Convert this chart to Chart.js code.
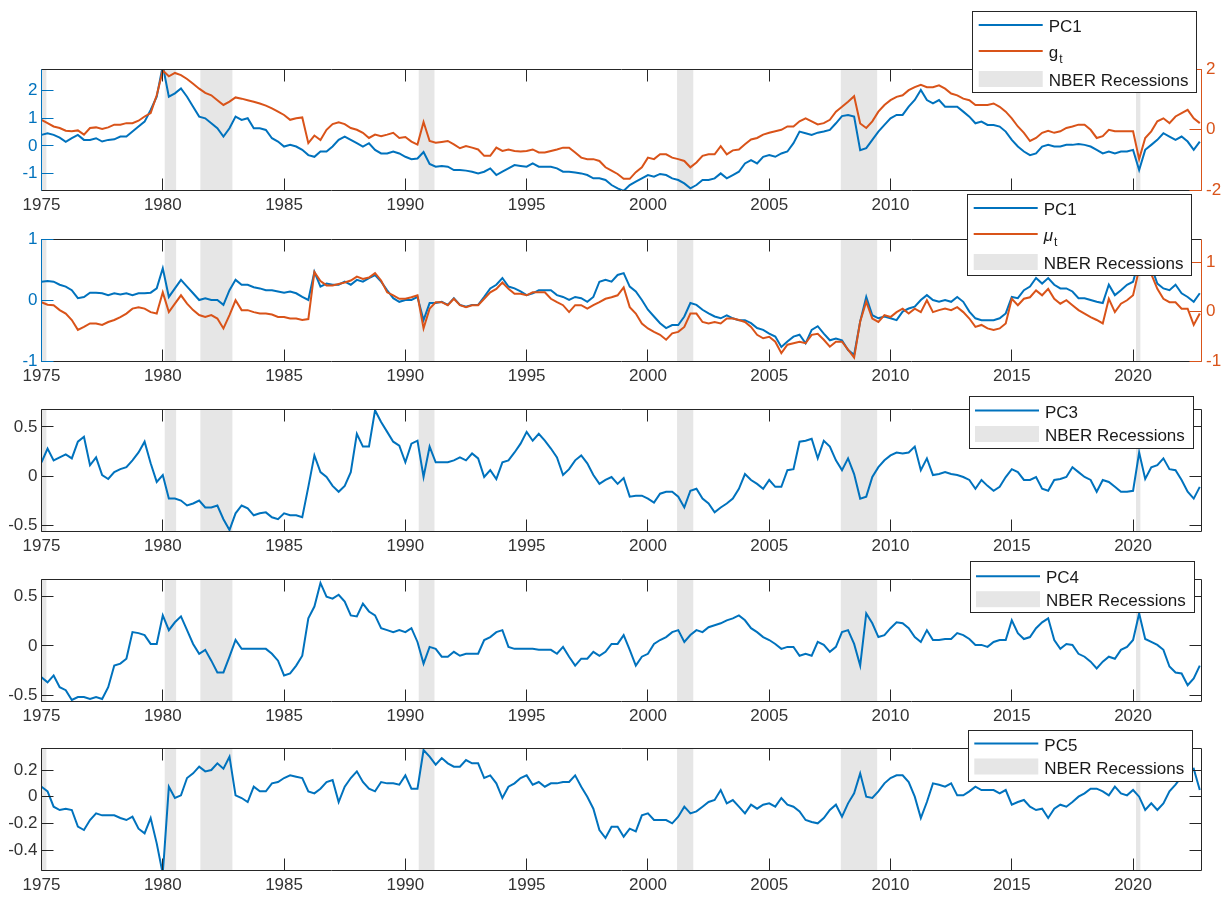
<!DOCTYPE html>
<html>
<head>
<meta charset="utf-8">
<script src="https://cdn.jsdelivr.net/npm/chart.js@4.4.0/dist/chart.umd.min.js"></script>
<style>
  body { margin: 0; background: #fff; }
  #wrap { position: relative; width: 1231px; height: 897px; overflow: hidden; }
  canvas { position: absolute; left: 0; }
</style>
</head>
<body>
<div id="wrap">
  <canvas id="c1"></canvas>
  <canvas id="c2"></canvas>
  <canvas id="c3"></canvas>
  <canvas id="c4"></canvas>
  <canvas id="c5"></canvas>
</div>
<script>
// quarterly observations, 1975Q1 .. 2022Q4
const quarters = [];
for (let i = 0; i < 192; i++) quarters.push(1975 + i / 4);

const xTicks = [1975, 1980, 1985, 1990, 1995, 2000, 2005, 2010, 2015, 2020];

// NBER recession dates (decimal years)
const recStart = [1973.83, 1980.08, 1981.55, 1990.55, 2001.2, 2007.95, 2020.12];
const recEnd   = [1975.2, 1980.55, 1982.87, 1991.2, 2001.87, 2009.45, 2020.3];

// panel 1
const pc1Top = [
  0.40,0.46,0.40,0.30, 0.15,0.28,0.40,0.22, 0.22,0.28,0.16,0.22, 0.24,0.34,0.34,0.52, 0.70,0.88,1.30,1.78,
  2.90,1.78,1.90,2.08, 1.78,1.42,1.06,1.00, 0.82,0.64,0.34,0.64, 1.06,0.94,1.00,0.64, 0.64,0.58,0.28,0.16,
  -0.02,0.04,-0.02,-0.14, -0.33,-0.39,-0.20,-0.20, -0.02,0.22,0.34,0.22, 0.10,-0.02,0.10,-0.14, -0.27,-0.27,-0.20,-0.27,
  -0.39,-0.48,-0.45,-0.22, -0.65,-0.75,-0.72,-0.75, -0.87,-0.87,-0.89,-0.93, -0.99,-0.93,-0.81,-1.05, -0.93,-0.81,-0.69,-0.72,
  -0.75,-0.63,-0.75,-0.75, -0.75,-0.81,-0.93,-0.93, -0.96,-0.99,-1.05,-1.17, -1.17,-1.23,-1.41,-1.53, -1.62,-1.41,-1.29,-1.17,
  -1.05,-1.11,-1.01,-1.05, -1.17,-1.23,-1.35,-1.53, -1.41,-1.23,-1.23,-1.17, -0.99,-1.17,-1.05,-0.93, -0.63,-0.51,-0.63,-0.39,
  -0.33,-0.39,-0.27,-0.20, 0.10,0.52,0.46,0.40, 0.48,0.52,0.58,0.82, 1.08,1.12,1.06,-0.15, -0.08,0.22,0.52,0.76,
  1.00,1.12,1.12,1.42, 1.66,2.02,1.66,1.54, 1.66,1.42,1.42,1.42, 1.24,1.06,0.82,0.88, 0.76,0.76,0.70,0.52,
  0.22,-0.02,-0.20,-0.33, -0.27,-0.02,0.04,-0.02, -0.02,0.04,0.04,0.07, 0.04,-0.02,-0.14,-0.27, -0.20,-0.27,-0.20,-0.20,
  -0.14,-0.87,-0.14,0.04, 0.22,0.46,0.34,0.22, 0.34,0.16,-0.14,0.16
];
const gTop = [
  0.32,0.21,0.10,0.05, -0.04,-0.06,-0.03,-0.17, 0.05,0.07,0.02,0.07, 0.16,0.16,0.21,0.21, 0.29,0.43,0.54,1.13,
  1.95,1.76,1.87,1.80, 1.67,1.51,1.35,1.21, 1.13,0.97,0.81,0.92, 1.06,1.02,0.97,0.92, 0.86,0.79,0.70,0.59,
  0.48,0.32,0.37,0.40, -0.45,-0.20,-0.35,-0.01, 0.18,0.24,0.18,0.05, -0.01,-0.11,-0.28,-0.17, -0.22,-0.17,-0.11,-0.28,
  -0.25,-0.40,-0.50,0.25, -0.38,-0.44,-0.41,-0.38, -0.49,-0.62,-0.55,-0.60, -0.66,-0.87,-0.87,-0.60, -0.71,-0.66,-0.71,-0.73,
  -0.71,-0.66,-0.76,-0.76, -0.71,-0.66,-0.60,-0.60, -0.76,-0.93,-0.98,-0.98, -1.04,-1.25,-1.36,-1.47, -1.63,-1.63,-1.41,-1.25,
  -0.93,-0.98,-0.82,-0.82, -0.93,-0.98,-1.04,-1.25, -1.09,-0.87,-0.82,-0.82, -0.55,-0.82,-0.69,-0.66, -0.49,-0.33,-0.28,-0.17,
  -0.11,-0.06,-0.01,0.10, 0.10,0.27,0.37,0.27, 0.17,0.21,0.32,0.59, 0.75,0.92,1.10,0.20, 0.05,0.27,0.59,0.81,
  0.97,1.08,1.13,1.30, 1.40,1.48,1.40,1.40, 1.46,1.35,1.19,1.13, 1.02,0.97,0.81,0.81, 0.81,0.86,0.75,0.59,
  0.37,0.10,-0.11,-0.38, -0.28,-0.11,-0.04,-0.11, -0.06,0.05,0.10,0.16, 0.16,-0.01,-0.28,-0.22, -0.01,-0.06,-0.06,-0.06,
  -0.06,-0.98,-0.28,-0.06, 0.27,0.37,0.21,0.43, 0.54,0.65,0.37,0.21
];

// panel 2
const pc1Mid = [
  0.30,0.31,0.30,0.25, 0.22,0.16,0.03,0.05, 0.12,0.12,0.11,0.08, 0.11,0.09,0.11,0.08, 0.11,0.11,0.12,0.19,
  0.52,0.05,0.19,0.33, 0.22,0.11,0.00,0.03, 0.00,0.00,-0.08,0.16, 0.33,0.25,0.25,0.21, 0.19,0.16,0.16,0.14,
  0.12,0.14,0.11,0.05, 0.00,0.46,0.22,0.27, 0.25,0.25,0.30,0.25, 0.33,0.30,0.36,0.41, 0.30,0.16,0.03,-0.03,
  0.00,0.00,0.05,-0.33, -0.05,-0.05,-0.03,-0.08, 0.03,-0.08,-0.11,-0.08, -0.08,0.05,0.19,0.25, 0.36,0.22,0.19,0.14,
  0.08,0.11,0.16,0.16, 0.16,0.08,0.05,0.00, 0.05,0.03,-0.03,0.05, 0.30,0.33,0.30,0.41, 0.44,0.22,0.14,0.00,
  -0.16,-0.27,-0.38,-0.46, -0.41,-0.41,-0.27,-0.05, -0.08,-0.16,-0.22,-0.27, -0.30,-0.25,-0.30,-0.33, -0.33,-0.38,-0.46,-0.49,
  -0.55,-0.60,-0.77,-0.68, -0.60,-0.57,-0.71,-0.49, -0.43,-0.55,-0.66,-0.63, -0.66,-0.82,-0.90,-0.35, 0.05,-0.25,-0.30,-0.27,
  -0.30,-0.33,-0.19,-0.14, -0.11,0.00,0.08,0.00, -0.03,0.00,-0.03,0.05, -0.03,-0.19,-0.30,-0.33, -0.33,-0.33,-0.30,-0.22,
  0.05,0.03,0.16,0.22, 0.36,0.27,0.36,0.25, 0.19,0.19,0.14,0.03, 0.03,0.00,-0.03,-0.05, 0.25,0.08,0.16,0.25,
  0.30,0.66,0.71,0.55, 0.27,0.19,0.16,0.25, 0.11,0.05,-0.03,0.11
];
const muMid = [
  0.19,0.14,0.13,0.03, -0.04,-0.17,-0.37,-0.31, -0.24,-0.24,-0.27,-0.21, -0.17,-0.11,-0.04,0.06, 0.09,0.06,-0.01,-0.04,
  0.39,-0.01,0.16,0.33, 0.16,0.03,-0.07,-0.11, -0.07,-0.14,-0.34,-0.07, 0.23,0.03,0.03,-0.01, -0.04,-0.04,-0.06,-0.11,
  -0.11,-0.14,-0.14,-0.17, -0.15,0.80,0.62,0.53, 0.53,0.56,0.59,0.63, 0.71,0.66,0.69,0.78, 0.63,0.39,0.33,0.26,
  0.26,0.29,0.33,-0.34, 0.06,0.19,0.19,0.13, 0.26,0.13,0.09,0.13, 0.13,0.26,0.39,0.46, 0.59,0.46,0.36,0.36,
  0.33,0.39,0.39,0.39, 0.26,0.19,0.13,-0.01, 0.13,0.13,0.06,0.13, 0.19,0.26,0.29,0.33, 0.49,0.09,-0.04,-0.24,
  -0.34,-0.41,-0.47,-0.57, -0.44,-0.41,-0.31,-0.04, -0.04,-0.21,-0.24,-0.21, -0.24,-0.14,-0.14,-0.17, -0.21,-0.31,-0.47,-0.54,
  -0.51,-0.61,-0.84,-0.67, -0.64,-0.61,-0.64,-0.47, -0.45,-0.57,-0.71,-0.61, -0.61,-0.77,-0.93,-0.20, 0.20,-0.14,-0.21,-0.07,
  -0.11,-0.01,0.06,-0.04, 0.06,-0.01,0.23,-0.01, 0.03,0.06,0.03,0.09, -0.01,-0.14,-0.31,-0.27, -0.34,-0.37,-0.34,-0.24,
  0.26,0.13,0.26,0.29, 0.43,0.33,0.46,0.26, 0.16,0.23,0.13,0.03, -0.04,-0.11,-0.17,-0.24, 0.26,-0.01,0.16,0.23,
  0.33,0.86,0.79,0.76, 0.46,0.26,0.19,0.19, 0.06,0.06,-0.27,-0.04
];

// panels 3-5
const pc3 = [
  0.14,0.28,0.16,0.19, 0.22,0.18,0.35,0.40, 0.11,0.19,0.01,-0.03, 0.04,0.07,0.09,0.16, 0.24,0.35,0.13,-0.06,
  0.01,-0.23,-0.23,-0.25, -0.30,-0.28,-0.25,-0.32, -0.32,-0.30,-0.44,-0.55, -0.38,-0.30,-0.33,-0.40, -0.38,-0.37,-0.42,-0.44,
  -0.38,-0.40,-0.40,-0.42, -0.11,0.21,0.04,-0.01, -0.10,-0.16,-0.10,0.04, 0.43,0.30,0.30,0.67, 0.55,0.45,0.35,0.31,
  0.14,0.33,0.36,-0.01, 0.30,0.14,0.14,0.14, 0.16,0.19,0.16,0.23, 0.18,-0.01,0.06,-0.03, 0.14,0.16,0.24,0.33,
  0.45,0.36,0.43,0.36, 0.28,0.19,0.01,0.07, 0.16,0.21,0.13,0.01, -0.08,-0.04,-0.01,-0.08, -0.02,-0.21,-0.20,-0.20,
  -0.23,-0.27,-0.18,-0.16, -0.16,-0.21,-0.32,-0.15, -0.13,-0.23,-0.28,-0.37, -0.32,-0.28,-0.23,-0.13, 0.02,-0.04,-0.08,-0.13,
  -0.04,-0.11,-0.11,0.06, 0.07,0.35,0.36,0.38, 0.18,0.36,0.30,0.16, 0.06,0.18,0.02,-0.23, -0.21,-0.01,0.09,0.16,
  0.21,0.24,0.23,0.24, 0.30,0.06,0.18,0.01, 0.02,0.04,0.02,0.01, -0.01,-0.04,-0.13,-0.04, -0.10,-0.15,-0.11,-0.01,
  0.07,0.04,-0.04,-0.04, -0.01,-0.13,-0.15,-0.04, -0.03,-0.01,0.09,0.04, -0.01,-0.04,-0.16,-0.04, -0.06,-0.11,-0.16,-0.16,
  -0.15,0.24,-0.03,0.09, 0.11,0.18,0.07,0.06, -0.04,-0.16,-0.23,-0.11
];
const pc4 = [
  -0.32,-0.37,-0.30,-0.42, -0.45,-0.55,-0.52,-0.52, -0.54,-0.52,-0.54,-0.42, -0.20,-0.18,-0.13,0.14, 0.13,0.11,0.02,0.02,
  0.31,0.16,0.24,0.30, 0.16,0.02,-0.08,-0.04, -0.15,-0.27,-0.27,-0.11, 0.06,-0.03,-0.03,-0.03, -0.03,-0.03,-0.08,-0.15,
  -0.30,-0.28,-0.20,-0.10, 0.28,0.40,0.64,0.50, 0.48,0.52,0.45,0.31, 0.30,0.43,0.35,0.31, 0.18,0.16,0.14,0.16,
  0.14,0.18,0.04,-0.18, -0.01,-0.03,-0.11,-0.11, -0.06,-0.10,-0.08,-0.08, -0.08,0.06,0.09,0.14, 0.16,-0.01,-0.03,-0.03,
  -0.03,-0.03,-0.04,-0.04, -0.04,-0.08,-0.01,-0.11, -0.20,-0.13,-0.13,-0.06, -0.10,-0.06,0.02,0.02, 0.11,-0.04,-0.20,-0.11,
  -0.08,0.02,0.06,0.09, 0.14,0.16,0.04,0.11, 0.16,0.14,0.19,0.21, 0.23,0.26,0.28,0.31, 0.26,0.18,0.14,0.09,
  0.06,0.02,-0.03,-0.01, -0.01,-0.10,-0.08,-0.10, 0.04,0.01,-0.06,-0.01, 0.14,0.16,0.02,-0.20, 0.33,0.23,0.09,0.11,
  0.18,0.24,0.23,0.18, 0.09,0.04,0.16,0.06, 0.06,0.07,0.07,0.13, 0.11,0.07,0.01,0.01, -0.01,0.04,0.06,0.06,
  0.26,0.13,0.07,0.09, 0.18,0.24,0.28,0.06, -0.03,0.02,0.01,-0.08, -0.11,-0.16,-0.23,-0.16, -0.11,-0.13,-0.04,-0.01,
  0.06,0.33,0.07,0.04, 0.01,-0.04,-0.21,-0.27, -0.28,-0.40,-0.33,-0.20
];
const pc5 = [
  0.075,0.04,-0.075,-0.10, -0.09,-0.10,-0.225,-0.25, -0.175,-0.125,-0.14,-0.14, -0.14,-0.16,-0.175,-0.15, -0.24,-0.275,-0.16,-0.35,
  -0.58,0.075,-0.01,0.01, 0.14,0.175,0.225,0.19, 0.20,0.25,0.21,0.30, 0.01,-0.01,-0.04,0.075, 0.04,0.04,0.10,0.11,
  0.14,0.16,0.15,0.14, 0.04,0.025,0.06,0.11, 0.125,-0.04,0.075,0.14, 0.19,0.11,0.06,0.04, 0.11,0.10,0.10,0.09,
  0.16,0.06,0.06,0.35, 0.30,0.24,0.29,0.25, 0.225,0.225,0.275,0.25, 0.25,0.14,0.16,0.10, -0.01,0.075,0.10,0.14,
  0.16,0.09,0.11,0.075, 0.10,0.10,0.11,0.11, 0.16,0.075,0.0,-0.09, -0.25,-0.31,-0.225,-0.225, -0.30,-0.24,-0.26,-0.14,
  -0.125,-0.175,-0.175,-0.175, -0.20,-0.15,-0.075,-0.125, -0.11,-0.075,-0.04,-0.025, 0.05,-0.05,-0.025,-0.075, -0.125,-0.06,-0.09,-0.06,
  -0.05,-0.075,-0.01,-0.06, -0.075,-0.11,-0.175,-0.19, -0.20,-0.16,-0.10,-0.06, -0.15,-0.05,0.025,0.175, 0.0,-0.01,0.04,0.10,
  0.14,0.16,0.16,0.11, 0.0,-0.16,-0.04,0.10, 0.09,0.075,0.10,0.01, 0.01,0.04,0.075,0.05, 0.05,0.05,0.025,0.05,
  -0.06,-0.04,-0.025,-0.075, -0.10,-0.09,-0.16,-0.09, -0.06,-0.075,-0.04,0.0, 0.025,0.06,0.06,0.04, 0.01,0.075,0.025,0.01,
  0.05,0.0,-0.10,-0.05, -0.10,-0.05,0.04,0.09, 0.15,0.20,0.21,0.05
];

const yTicks1 = [-1, 0, 1, 2];
const yTicks1r = [-2, 0, 2];
const yTicks2 = [-1, 0, 1];
const yTicks2r = [-1, 0, 1];
const yTicksPC = [-0.5, 0, 0.5];
const yTicks5 = [-0.4, -0.2, 0, 0.2];

const BLUE = '#0072BD', ORANGE = '#D95319', DARK = '#262626', GREY = '#E6E6E6', TICKTXT = '#333333';
const FONT = "'Liberation Sans', Arial, Helvetica, sans-serif";
const X_AXIS_H = 28, TL = 12;

Chart.defaults.font.family = FONT;
Chart.defaults.font.size = 17;

const sn = v => Math.floor(v) + 0.5;

function drawLegend(ctx, lg, items, offY) {
  const bx = lg.x, by = lg.y - offY;
  ctx.fillStyle = '#fff';
  ctx.fillRect(bx, by, lg.w, lg.h);
  ctx.lineWidth = 1;
  ctx.strokeStyle = DARK;
  ctx.strokeRect(sn(bx), sn(by), Math.round(lg.w), Math.round(lg.h));
  items.forEach((it, i) => {
    const cy = by + lg.rows[i];
    if (it.patch) {
      ctx.fillStyle = GREY;
      ctx.fillRect(bx + 6, cy - 8, 64, 16);
    } else {
      ctx.strokeStyle = it.color;
      ctx.lineWidth = 2;
      ctx.beginPath();
      ctx.moveTo(bx + 6, cy);
      ctx.lineTo(bx + 70, cy);
      ctx.stroke();
    }
    ctx.fillStyle = '#1a1a1a';
    ctx.textBaseline = 'middle';
    ctx.textAlign = 'left';
    ctx.font = (it.italic ? 'italic ' : '') + '17px ' + FONT;
    ctx.fillText(it.label, bx + 76, cy + 2.5);
    if (it.sub) {
      const w = ctx.measureText(it.label).width;
      ctx.font = '12px ' + FONT;
      ctx.fillText(it.sub, bx + 76 + w + 1, cy + 9);
    }
  });
}

const matlabLook = {
  id: 'matlabLook',
  beforeDatasetsDraw(chart) {
    const { ctx, chartArea: a, scales: { x } } = chart;
    ctx.save();
    ctx.beginPath();
    ctx.rect(a.left, a.top, a.width, a.height);
    ctx.clip();
    ctx.fillStyle = GREY;
    recStart.forEach((s, i) => {
      const x0 = x.getPixelForValue(s), x1 = x.getPixelForValue(recEnd[i]);
      ctx.fillRect(x0, a.top, x1 - x0, a.height);
    });
    ctx.restore();
  },
  afterDatasetsDraw(chart, args, o) {
    const { ctx, chartArea: a, scales } = chart;
    const x = scales.x, y = scales.y, y2 = scales.y2;
    const L = sn(a.left), R = sn(a.right), T = sn(a.top), B = sn(a.bottom);
    ctx.save();
    ctx.lineWidth = 1;
    // top / bottom spines and x ticks
    ctx.strokeStyle = DARK;
    ctx.beginPath();
    ctx.moveTo(L, T); ctx.lineTo(R, T);
    ctx.moveTo(L, B); ctx.lineTo(R, B);
    xTicks.forEach(v => {
      const px = sn(x.getPixelForValue(v));
      ctx.moveTo(px, B); ctx.lineTo(px, B - TL);
      ctx.moveTo(px, T); ctx.lineTo(px, T + TL);
    });
    if (!y2) {
      ctx.moveTo(L, T); ctx.lineTo(L, B);
      ctx.moveTo(R, T); ctx.lineTo(R, B);
      o.leftTicks.forEach(v => {
        const py = sn(y.getPixelForValue(v));
        ctx.moveTo(L, py); ctx.lineTo(L + TL, py);
        ctx.moveTo(R, py); ctx.lineTo(R - TL, py);
      });
    }
    ctx.stroke();
    if (y2) {
      ctx.strokeStyle = BLUE;
      ctx.beginPath();
      ctx.moveTo(L, T); ctx.lineTo(L, B);
      o.leftTicks.forEach(v => {
        const py = sn(y.getPixelForValue(v));
        ctx.moveTo(L, py); ctx.lineTo(L + TL, py);
      });
      ctx.stroke();
      ctx.strokeStyle = ORANGE;
      ctx.beginPath();
      ctx.moveTo(R, T); ctx.lineTo(R, B);
      o.rightTicks.forEach(v => {
        const py = sn(y2.getPixelForValue(v));
        ctx.moveTo(R, py); ctx.lineTo(R - TL, py);
      });
      ctx.stroke();
    }
    drawLegend(ctx, o.legend, o.items, o.canvasTop);
    ctx.restore();
  }
};

const panels = [
  { id: 'c1', top: 0, areaTop: 69, areaBottom: 190,
    lines: [{ data: pc1Top, color: BLUE, axis: 'y' }, { data: gTop, color: ORANGE, axis: 'y2' }],
    left: { min: -1.59, max: 2.78, ticks: yTicks1 }, right: { min: -2, max: 2, ticks: yTicks1r },
    legend: { x: 972.7, y: 11, w: 224, h: 81, rows: [14, 40, 68] },
    items: [{ label: 'PC1', color: BLUE }, { label: 'g', sub: 't', color: ORANGE }, { label: 'NBER Recessions', patch: true }] },
  { id: 'c2', top: 190, areaTop: 239, areaBottom: 361,
    lines: [{ data: pc1Mid, color: BLUE, axis: 'y' }, { data: muMid, color: ORANGE, axis: 'y2' }],
    left: { min: -1, max: 1, ticks: yTicks2 }, right: { min: -1, max: 1.47, ticks: yTicks2r },
    legend: { x: 967.7, y: 194, w: 224, h: 81, rows: [14, 40, 68] },
    items: [{ label: 'PC1', color: BLUE }, { label: '\u03BC', sub: 't', italic: true, color: ORANGE }, { label: 'NBER Recessions', patch: true }] },
  { id: 'c3', top: 392, areaTop: 409.3, areaBottom: 531,
    lines: [{ data: pc3, color: BLUE, axis: 'y' }],
    left: { min: -0.56, max: 0.68, ticks: yTicksPC },
    legend: { x: 969, y: 396, w: 224, h: 52, rows: [14.5, 38] },
    items: [{ label: 'PC3', color: BLUE }, { label: 'NBER Recessions', patch: true }] },
  { id: 'c4', top: 557, areaTop: 579, areaBottom: 701,
    lines: [{ data: pc4, color: BLUE, axis: 'y' }],
    left: { min: -0.56, max: 0.68, ticks: yTicksPC },
    legend: { x: 970, y: 561.7, w: 224, h: 51, rows: [14.5, 37.5] },
    items: [{ label: 'PC4', color: BLUE }, { label: 'NBER Recessions', patch: true }] },
  { id: 'c5', top: 726, areaTop: 748.7, areaBottom: 870,
    lines: [{ data: pc5, color: BLUE, axis: 'y' }],
    left: { min: -0.55, max: 0.36, ticks: yTicks5 },
    legend: { x: 968.3, y: 730, w: 224, h: 51, rows: [13.5, 36.5] },
    items: [{ label: 'PC5', color: BLUE }, { label: 'NBER Recessions', patch: true }] }
];

function makeChart(p) {
  const cv = document.getElementById(p.id);
  cv.width = 1231;
  cv.height = Math.round(p.areaBottom - p.top + X_AXIS_H);
  cv.style.top = p.top + 'px';
  const dual = !!p.right;
  const hidden = { grid: { display: false, drawTicks: false }, border: { display: false } };
  const scales = {
    x: {
      type: 'linear', min: 1975, max: 2022.8, ...hidden,
      afterBuildTicks: s => { s.ticks = xTicks.map(v => ({ value: v })); },
      afterFit: s => { s.height = X_AXIS_H; },
      ticks: { autoSkip: false, maxRotation: 0, padding: 5, color: TICKTXT, callback: v => String(v) }
    },
    y: {
      position: 'left', min: p.left.min, max: p.left.max, ...hidden,
      afterBuildTicks: s => { s.ticks = p.left.ticks.map(v => ({ value: v })); },
      afterFit: s => { s.width = 41.5; },
      ticks: { padding: 4, color: dual ? BLUE : TICKTXT, callback: v => String(v) }
    }
  };
  if (dual) {
    scales.y2 = {
      position: 'right', min: p.right.min, max: p.right.max, ...hidden,
      afterBuildTicks: s => { s.ticks = p.right.ticks.map(v => ({ value: v })); },
      afterFit: s => { s.width = 30; },
      ticks: { padding: 5, color: ORANGE, callback: v => String(v) }
    };
  }
  const datasets = p.lines.map((l, i) => ({
    data: quarters.map((q, k) => ({ x: q, y: l.data[k] })),
    borderColor: l.color,
    borderWidth: 2,
    pointRadius: 0,
    tension: 0,
    fill: false,
    clip: 0,
    yAxisID: l.axis,
    order: p.lines.length - i
  }));
  return new Chart(cv, {
    type: 'line',
    data: { datasets },
    options: {
      responsive: false,
      animation: false,
      events: [],
      layout: { padding: { top: p.areaTop - p.top, left: 0, right: dual ? 0 : 30, bottom: 0 } },
      scales,
      plugins: {
        legend: { display: false },
        tooltip: { enabled: false },
        matlabLook: {
          leftTicks: p.left.ticks,
          rightTicks: dual ? p.right.ticks : [],
          legend: p.legend,
          items: p.items,
          canvasTop: p.top
        }
      }
    },
    plugins: [matlabLook]
  });
}

panels.forEach(makeChart);
</script>
</body>
</html>
